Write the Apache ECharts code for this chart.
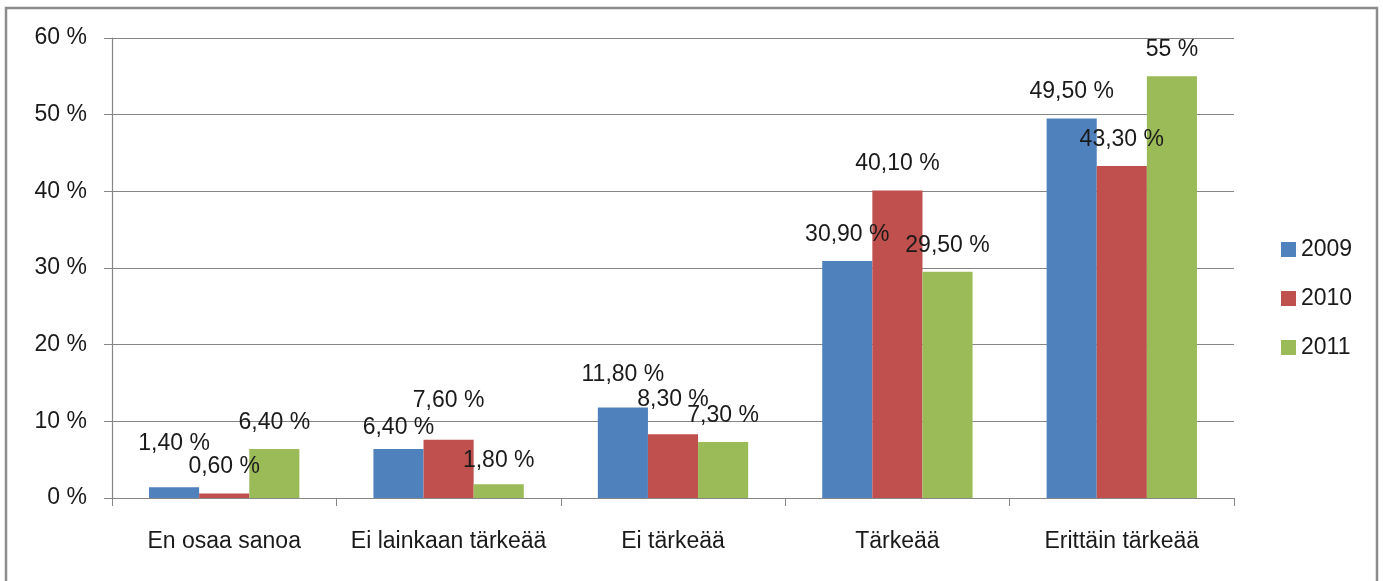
<!DOCTYPE html>
<html>
<head>
  <meta charset="UTF-8">
  <title>Tärkeys 2009-2011</title>
  <script src="https://cdn.jsdelivr.net/npm/echarts@6/dist/echarts.min.js"></script>
  <style>
    body { margin: 0; padding: 0; background: #fff; }
    #main { width: 1383px; height: 581px; }
  </style>
</head>
<body>
  <div id="main"></div>
  <script type="text/javascript">
    // data
    var categories = ['En osaa sanoa', 'Ei lainkaan tärkeää', 'Ei tärkeää', 'Tärkeää', 'Erittäin tärkeää'];
    var years = ['2009', '2010', '2011'];
    var v2009 = [1.4, 6.4, 11.8, 30.9, 49.5];
    var v2010 = [0.6, 7.6, 8.3, 40.1, 43.3];
    var v2011 = [6.4, 1.8, 7.3, 29.5, 55];
    var yTicks = [0, 10, 20, 30, 40, 50, 60];

    var colors = ['#4f81bd', '#c0504d', '#9bbb59'];
    // extra lift of some labels (px), moved by hand in the original
    var labelLift = [
      [17, -5, 6, 0, 0],
      [0, 13, 8, 0, 0],
      [0, -3, 0, 0, 0]
    ];
    var font = 'Liberation Sans';

    function fmt(v) {
      var s = Number.isInteger(v) ? String(v) : v.toFixed(2).replace('.', ',');
      return s + ' %';
    }

    function makeSeries(name, values, idx) {
      return {
        name: name,
        type: 'bar',
        barGap: '0%',
        barCategoryGap: '33%',
        itemStyle: { color: colors[idx] },
        data: values.map(function (v, i) {
          return {
            value: v,
            label: { distance: 15 + labelLift[idx][i] }
          };
        }),
        label: {
          show: true,
          position: 'top',
          color: '#1a1a1a',
          fontFamily: font,
          fontSize: 23,
          formatter: function (p) { return fmt(p.value); }
        }
      };
    }

    var myChart = echarts.init(document.getElementById('main'));

    var option = {
      animation: false,
      graphic: [{
        type: 'rect',
        shape: { x: 6, y: 8, width: 1371, height: 600 },
        style: { fill: 'none', stroke: '#8c8c8c', lineWidth: 2.5 },
        silent: true
      }],
      grid: { left: 112, right: 149, top: 38, bottom: 83 },
      legend: {
        orient: 'vertical',
        left: 1276,
        top: 233,
        itemWidth: 15,
        itemHeight: 15,
        itemGap: 26,
        icon: 'rect',
        textStyle: { fontFamily: font, fontSize: 23, color: '#1a1a1a' },
        data: years
      },
      xAxis: {
        type: 'category',
        data: categories,
        axisLine: { lineStyle: { color: '#868686', width: 1.2 } },
        axisTick: { show: true, interval: 0, length: 8, lineStyle: { color: '#868686' } },
        axisLabel: { interval: 0, margin: 32, color: '#1a1a1a', fontFamily: font, fontSize: 23 }
      },
      yAxis: {
        type: 'value',
        min: 0,
        max: 60,
        interval: 10,
        axisLine: { show: true, lineStyle: { color: '#868686', width: 1.2 } },
        axisTick: { show: true, length: 8, lineStyle: { color: '#868686' } },
        splitLine: { lineStyle: { color: '#868686', width: 1.2 } },
        axisLabel: {
          margin: 25,
          color: '#1a1a1a',
          fontFamily: font,
          fontSize: 23,
          formatter: function (v) { return yTicks.indexOf(v) >= 0 ? v + ' %' : ''; }
        }
      },
      series: [
        makeSeries(years[0], v2009, 0),
        makeSeries(years[1], v2010, 1),
        makeSeries(years[2], v2011, 2)
      ]
    };

    myChart.setOption(option);
  </script>
</body>
</html>
